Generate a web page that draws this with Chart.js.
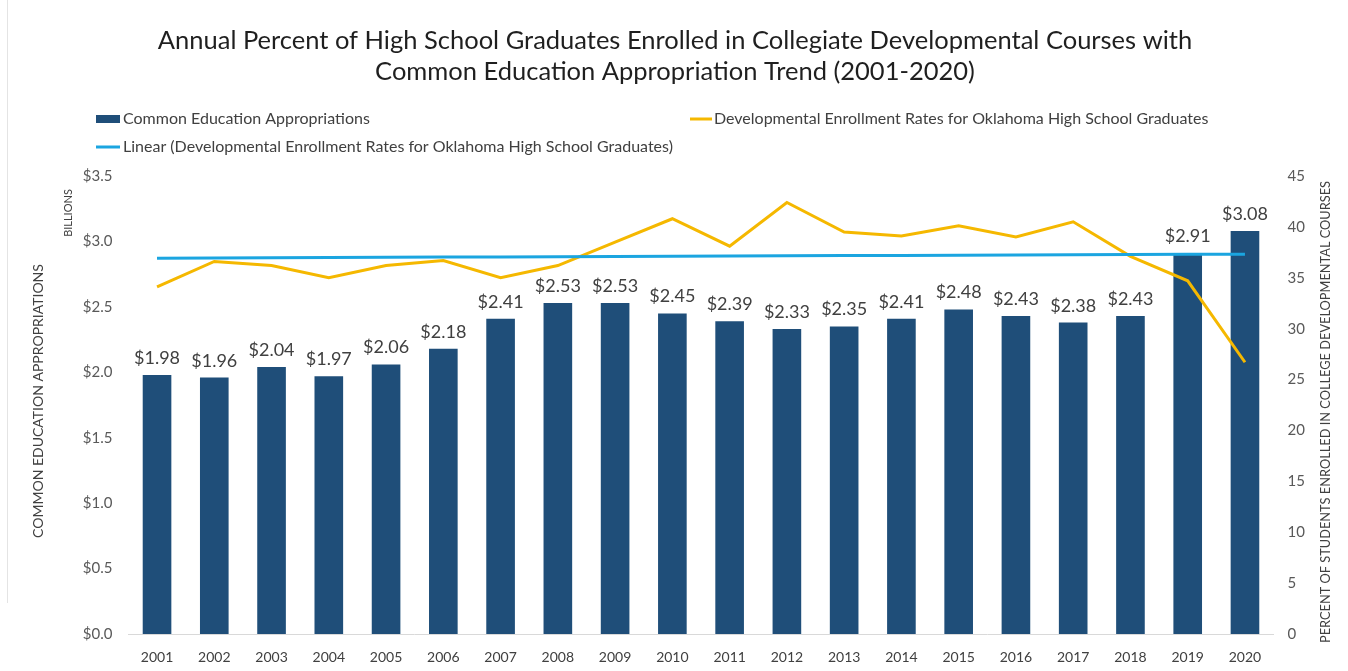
<!DOCTYPE html>
<html>
<head>
<meta charset="utf-8">
<title>Common Education Appropriations vs Developmental Enrollment</title>
<script src="https://cdn.jsdelivr.net/npm/chart.js@4.4.0/dist/chart.umd.min.js"></script>
<style>
    html, body { margin: 0; padding: 0; background: #ffffff; }
    #wrap { position: relative; width: 1348px; height: 671px; }
    #frame { position: absolute; left: 7px; top: 0; width: 1px; height: 603px; background: #e4e4e4; }
</style>
</head>
<body>
<div id="wrap">
    <div id="frame"></div>
    <canvas id="fundingChart" width="1348" height="671"></canvas>
</div>
<script>
// Chart data
const years = ['2001', '2002', '2003', '2004', '2005', '2006', '2007', '2008', '2009', '2010',
               '2011', '2012', '2013', '2014', '2015', '2016', '2017', '2018', '2019', '2020'];

// Common education appropriations, billions of dollars
const appropriations = [1.98, 1.96, 2.04, 1.97, 2.06, 2.18, 2.41, 2.53, 2.53, 2.45,
                        2.39, 2.33, 2.35, 2.41, 2.48, 2.43, 2.38, 2.43, 2.91, 3.08];

// Percent of Oklahoma high school graduates in developmental courses
const enrollmentRates = [34.1, 36.6, 36.2, 35.0, 36.2, 36.7, 35.0, 36.2, 38.5, 40.8,
                         38.1, 42.4, 39.5, 39.1, 40.1, 39.0, 40.5, 37.1, 34.7, 26.7];

const titleLines = [
    'Annual Percent of High School Graduates Enrolled in Collegiate Developmental Courses with',
    'Common Education Appropriation Trend (2001-2020)'
];

const seriesNames = {
    bars: 'Common Education Appropriations',
    rates: 'Developmental Enrollment Rates for Oklahoma High School Graduates',
    trend: 'Linear (Developmental Enrollment Rates for Oklahoma High School Graduates)'
};

const colors = {
    bar: '#1f4e79',
    rate: '#f5b800',
    trend: '#1ba5e0',
    text: '#404040',
    title: '#1f1f1f'
};

const FONT = 'Lato, "Open Sans", sans-serif';

// Least-squares line through the enrollment rates (Excel style linear trendline)
function linearTrend(values) {
    const n = values.length;
    const xMean = (n - 1) / 2;
    const yMean = values.reduce((a, b) => a + b, 0) / n;
    let num = 0;
    let den = 0;
    values.forEach((v, i) => {
        num += (i - xMean) * (v - yMean);
        den += (i - xMean) * (i - xMean);
    });
    const slope = num / den;
    return values.map((_, i) => yMean + slope * (i - xMean));
}

// Title, legend, axis captions and bar value labels
const decorPlugin = {
    id: 'decor',
    afterDatasetsDraw(chart) {
        const ctx = chart.ctx;
        const meta = chart.getDatasetMeta(2);
        ctx.save();
        ctx.font = '18px ' + FONT;
        ctx.fillStyle = colors.text;
        ctx.textAlign = 'center';
        ctx.textBaseline = 'alphabetic';
        meta.data.forEach((bar, i) => {
            ctx.fillText('$' + appropriations[i].toFixed(2), bar.x, bar.y - 11);
        });
        ctx.restore();
    },
    afterDraw(chart) {
        const ctx = chart.ctx;
        ctx.save();

        // title
        ctx.fillStyle = colors.title;
        ctx.font = '25.5px ' + FONT;
        ctx.textAlign = 'center';
        ctx.textBaseline = 'alphabetic';
        ctx.fillText(titleLines[0], 675, 49);
        ctx.fillText(titleLines[1], 675, 80);

        // legend
        ctx.font = '16px ' + FONT;
        ctx.textAlign = 'left';
        ctx.textBaseline = 'middle';
        ctx.fillStyle = colors.bar;
        ctx.fillRect(96, 115, 24, 8);
        ctx.fillStyle = colors.text;
        ctx.fillText(seriesNames.bars, 123, 119);

        ctx.strokeStyle = colors.rate;
        ctx.lineWidth = 3;
        ctx.beginPath();
        ctx.moveTo(690, 119);
        ctx.lineTo(712, 119);
        ctx.stroke();
        ctx.fillText(seriesNames.rates, 714, 119);

        ctx.strokeStyle = colors.trend;
        ctx.beginPath();
        ctx.moveTo(96, 147);
        ctx.lineTo(120, 147);
        ctx.stroke();
        ctx.fillText(seriesNames.trend, 123, 147);

        // axis captions
        ctx.textAlign = 'center';
        ctx.fillStyle = colors.text;

        ctx.save();
        ctx.translate(38, 401);
        ctx.rotate(-Math.PI / 2);
        ctx.font = '14px ' + FONT;
        ctx.fillText('COMMON EDUCATION APPROPRIATIONS', 0, 0);
        ctx.restore();

        ctx.save();
        ctx.translate(68, 213);
        ctx.rotate(-Math.PI / 2);
        ctx.font = '11px ' + FONT;
        ctx.fillText('BILLIONS', 0, 0);
        ctx.restore();

        ctx.save();
        ctx.translate(1326, 412);
        ctx.rotate(-Math.PI / 2);
        ctx.font = '12.8px ' + FONT;
        ctx.fillText('PERCENT OF STUDENTS ENROLLED IN COLLEGE DEVELOPMENTAL COURSES', 0, 0);
        ctx.restore();

        ctx.restore();
    }
};

const ctx = document.getElementById('fundingChart').getContext('2d');

const fundingChart = new Chart(ctx, {
    data: {
        labels: years,
        datasets: [
            {
                type: 'line',
                label: seriesNames.trend,
                data: linearTrend(enrollmentRates),
                yAxisID: 'y1',
                borderColor: colors.trend,
                borderWidth: 3,
                pointRadius: 0,
                tension: 0,
                order: 0
            },
            {
                type: 'line',
                label: seriesNames.rates,
                data: enrollmentRates,
                yAxisID: 'y1',
                borderColor: colors.rate,
                borderWidth: 3,
                pointRadius: 0,
                tension: 0,
                order: 1
            },
            {
                type: 'bar',
                label: seriesNames.bars,
                data: appropriations,
                yAxisID: 'y',
                backgroundColor: colors.bar,
                barPercentage: 0.5,
                categoryPercentage: 1.0,
                order: 2
            }
        ]
    },
    options: {
        responsive: false,
        animation: false,
        layout: {
            padding: { top: 176, left: 0, right: 0, bottom: 0 }
        },
        plugins: {
            legend: { display: false },
            title: { display: false },
            tooltip: { enabled: false }
        },
        scales: {
            x: {
                grid: { display: false, drawTicks: false },
                border: { display: true, color: '#d9d9d9', width: 1 },
                ticks: {
                    color: colors.text,
                    font: { family: FONT, size: 14 },
                    padding: 15,
                    maxRotation: 0,
                    autoSkip: false
                },
                afterFit: function(scale) { scale.height = 37; }
            },
            y: {
                position: 'left',
                min: 0,
                max: 3.5,
                grid: { display: false, drawTicks: false },
                border: { display: false },
                ticks: {
                    stepSize: 0.5,
                    color: '#595959',
                    font: { family: FONT, size: 15 },
                    padding: 16,
                    callback: function(value) { return '$' + value.toFixed(1); }
                },
                afterFit: function(scale) { scale.width = 128.4; }
            },
            y1: {
                position: 'right',
                min: 0,
                max: 45,
                grid: { display: false, drawTicks: false },
                border: { display: false },
                ticks: {
                    stepSize: 5,
                    color: '#595959',
                    font: { family: FONT, size: 15 },
                    padding: 14
                },
                afterFit: function(scale) { scale.width = 74.4; }
            }
        }
    },
    plugins: [decorPlugin]
});
</script>
</body>
</html>
